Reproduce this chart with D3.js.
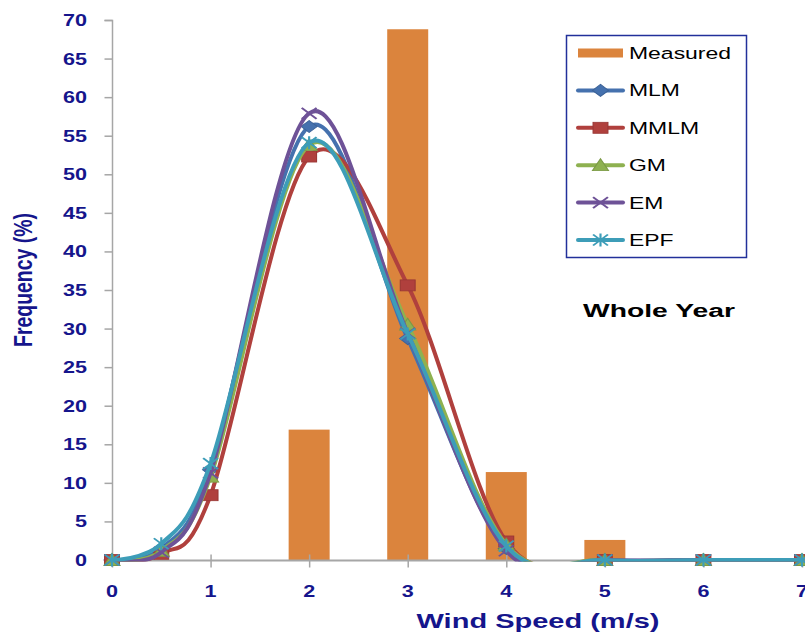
<!DOCTYPE html>
<html><head><meta charset="utf-8">
<script src="https://cdn.jsdelivr.net/npm/d3@7"></script>
<style>body{margin:0;background:#fff}svg{display:block}</style>
</head><body>
<script>
// ---- data ----
const windSpeed = [0, 0.5, 1, 2, 3, 4, 5, 6, 7];
const measuredX = [2, 3, 4, 5];
const measured  = [16.9, 68.8, 11.4, 2.6];
const MLM  = [0, 1.5, 11.7, 56.2, 28.7, 1.5, 0, 0, 0];
const MMLM = [0, 0.8, 8.4, 52.3, 35.6, 2.4, 0, 0, 0];
const GM   = [0, 1.2, 10.8, 53.8, 30.5, 2.0, 0, 0, 0];
const EM   = [0, 1.0, 11.3, 57.9, 29.4, 1.2, 0, 0, 0];
const EPF  = [0, 2.1, 12.5, 54.1, 29.3, 1.8, 0, 0, 0];
const seriesNames = ["MLM", "MMLM", "GM", "EM", "EPF"];
const xTickLabels = [0, 1, 2, 3, 4, 5, 6, 7];
const yTickLabels = [0, 5, 10, 15, 20, 25, 30, 35, 40, 45, 50, 55, 60, 65, 70];

// ---- styles ----
const seriesData = {MLM, MMLM, GM, EM, EPF};
const colors = {MLM:"#4571AE", MMLM:"#B0403D", GM:"#8EB150", EM:"#6E5297", EPF:"#3D9DB8"};
const markerType = {MLM:"diamond", MMLM:"square", GM:"triangle", EM:"x", EPF:"star"};
const barColor = "#DB843D";
const navy = "#15158C";
const axisGray = "#A6A6A6";
const SX = 1.35; // horizontal stretch of the original chart

const W = 805, H = 635;
const svg = d3.select("body").append("svg").attr("width", W).attr("height", H);

const x = d3.scaleLinear().domain([0, 7]).range([112, 802]);
const y = d3.scaleLinear().domain([0, 70]).range([560, 20]);

svg.append("defs").append("clipPath").attr("id", "plotClip")
  .append("rect").attr("x", 0).attr("y", 0).attr("width", W).attr("height", y(0) + 1.5);

// stretched text helper
function sText(g, tx, ty, str, opts) {
  const grp = g.append("g").attr("transform", `translate(${tx},${ty}) scale(${opts.sx||1},${opts.sy||1})` + (opts.rot ? ` rotate(${opts.rot})` : ""));
  const t = grp.append("text").text(str)
    .attr("font-family", opts.family || "'Liberation Sans', Arial, sans-serif")
    .attr("font-size", opts.size)
    .attr("font-weight", opts.weight || "normal")
    .attr("fill", opts.fill || "#000")
    .attr("text-anchor", opts.anchor || "start");
  if (opts.len) t.attr("textLength", opts.len).attr("lengthAdjust", "spacingAndGlyphs");
  return t;
}

// ---- bars ----
const barW = 41;
svg.append("g").selectAll("rect").data(measuredX.map((v, i) => [v, measured[i]])).join("rect")
  .attr("x", d => x(d[0]) - barW / 2)
  .attr("width", barW)
  .attr("y", d => y(d[1]))
  .attr("height", d => y(0) - y(d[1]))
  .attr("fill", barColor);

// ---- axes ----
const yAxis = d3.axisLeft(y).tickValues(yTickLabels).tickSize(8).tickFormat("");
const gy = svg.append("g").attr("transform", "translate(112.5,0)").call(yAxis);
gy.select(".domain").attr("stroke", axisGray).attr("stroke-width", 1.5).attr("d", `M-8,${y(70)+0.5}H0V${y(0)}`);
gy.selectAll(".tick line").attr("stroke", axisGray).attr("stroke-width", 1.5);

const xAxis = d3.axisBottom(x).tickValues(xTickLabels).tickSize(7).tickFormat("");
const gx = svg.append("g").attr("transform", "translate(0,560.5)").call(xAxis);
gx.select(".domain").attr("stroke", axisGray).attr("stroke-width", 2).attr("d", `M112,0H805`);
gx.selectAll(".tick line").attr("stroke", axisGray).attr("stroke-width", 1.5).attr("y1", -6);

// tick labels
yTickLabels.forEach(v => sText(svg, 87, y(v) + 6, String(v), {size: 16, weight: "bold", fill: navy, anchor: "end", sx: SX}));
xTickLabels.forEach(v => sText(svg, x(v), 597, String(v), {size: 16, weight: "bold", fill: navy, anchor: "middle", sx: SX}));

// axis titles
sText(svg, 32, 280, "Frequency (%)", {size: 20, weight: "bold", fill: navy, anchor: "middle", rot: -90, len: 134, sx: 1.3});
sText(svg, 538, 628, "Wind  Speed (m/s)", {size: 21, weight: "bold", fill: navy, anchor: "middle", len: 243});

// ---- markers ----
function drawMarker(g, type, cx, cy, color) {
  const m = g.append("g").attr("transform", `translate(${cx},${cy}) scale(${SX},1)`);
  if (type === "diamond") {
    m.append("path").attr("d", "M0,-6L6,0L0,6L-6,0Z").attr("fill", color).attr("stroke", d3.color(color).darker(0.4)).attr("stroke-width", 0.8);
  } else if (type === "square") {
    m.append("rect").attr("x", -5.5).attr("y", -5.5).attr("width", 11).attr("height", 11).attr("fill", color).attr("stroke", d3.color(color).darker(0.4)).attr("stroke-width", 0.8);
  } else if (type === "triangle") {
    m.append("path").attr("d", "M0,-6.5L6,5.5L-6,5.5Z").attr("fill", color).attr("stroke", d3.color(color).darker(0.4)).attr("stroke-width", 0.8);
  } else if (type === "x") {
    m.append("path").attr("d", "M-5.5,-5.5L5.5,5.5M-5.5,5.5L5.5,-5.5").attr("stroke", color).attr("stroke-width", 1.6).attr("fill", "none");
  } else if (type === "star") {
    m.append("path").attr("d", "M-5.5,-5.5L5.5,5.5M-5.5,5.5L5.5,-5.5M0,-6.5V6.5").attr("stroke", color).attr("stroke-width", 1.6).attr("fill", "none");
  }
}

// ---- lines ----
const line = d3.line().x(d => x(d[0])).y(d => y(d[1])).curve(d3.curveCardinal.tension(0));
const gl = svg.append("g");
seriesNames.forEach(name => {
  const pts = windSpeed.map((v, i) => [v, seriesData[name][i]]);
  gl.append("path").attr("d", line(pts)).attr("fill", "none").attr("clip-path", "url(#plotClip)")
    .attr("stroke", colors[name]).attr("stroke-width", 4).attr("stroke-linejoin", "round").attr("stroke-linecap", "round");
  pts.forEach(p => drawMarker(gl, markerType[name], x(p[0]), y(p[1]), colors[name]));
});

// ---- legend ----
const lg = svg.append("g");
lg.append("rect").attr("x", 566.5).attr("y", 35.5).attr("width", 180).attr("height", 222)
  .attr("fill", "#fff").attr("stroke", "#22309A").attr("stroke-width", 1.5);
const legendItems = ["Measured"].concat(seriesNames);
const legendY = d3.scalePoint().domain(legendItems).range([53, 240]);
legendItems.forEach(name => {
  const cy = legendY(name);
  if (name === "Measured") {
    lg.append("rect").attr("x", 578).attr("y", cy - 4.5).attr("width", 45).attr("height", 9).attr("fill", barColor);
  } else {
    lg.append("line").attr("x1", 578).attr("x2", 623).attr("y1", cy).attr("y2", cy)
      .attr("stroke", colors[name]).attr("stroke-width", 4).attr("stroke-linecap", "round");
    drawMarker(lg, markerType[name], 600.5, cy, colors[name]);
  }
  sText(lg, 629, cy + 6, name, {size: 17, sx: SX});
});

// annotation
sText(svg, 583, 317, "Whole Year", {size: 18, weight: "bold", len: 152});
</script>
</body></html>
